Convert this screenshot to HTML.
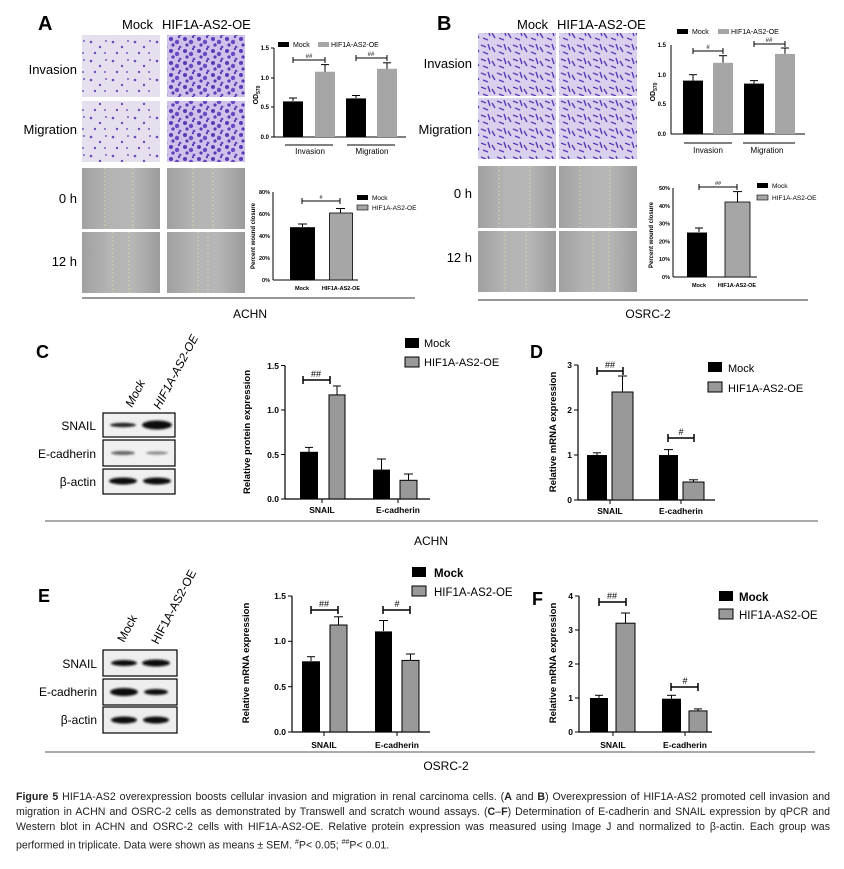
<!DOCTYPE html>
<html><head><meta charset="utf-8"><style>
html,body{margin:0;padding:0;background:#fff;width:844px;height:869px;overflow:hidden;position:relative}
svg{position:absolute;left:0;top:0}
.cap{position:absolute;left:16px;top:790px;width:814px;font-family:"Liberation Sans",sans-serif;font-size:10.6px;line-height:15px;color:#222}
.cap div{text-align:justify;text-align-last:justify;white-space:nowrap;overflow:visible;height:15px}
.cap div.last{text-align-last:left}
</style></head><body>
<svg width="844" height="869" viewBox="0 0 844 869" font-family="Liberation Sans, Arial, sans-serif">
<defs>
<pattern id="cellsA" width="22" height="19" patternUnits="userSpaceOnUse">
<rect width="22" height="19" fill="#e6e0ee"/>
<circle cx="3" cy="4" r="1.3" fill="#6a4bb8"/><circle cx="12" cy="9" r="1.2" fill="#6a4bb8"/><circle cx="18" cy="3" r="1" fill="#7a5cc4"/><circle cx="7" cy="15" r="1.2" fill="#6a4bb8"/><circle cx="17" cy="15" r="1" fill="#7a5cc4"/>
</pattern>
<pattern id="cellsB" width="14" height="12" patternUnits="userSpaceOnUse">
<rect width="14" height="12" fill="#cfc2ea"/>
<circle cx="3" cy="3" r="2" fill="#5b3bb5"/><circle cx="9" cy="6" r="2.2" fill="#6a48c2"/><circle cx="5" cy="9" r="1.6" fill="#5b3bb5"/><circle cx="12" cy="11" r="1.4" fill="#6a48c2"/><circle cx="11" cy="1" r="1.2" fill="#5b3bb5"/>
</pattern>
<pattern id="cellsC" width="16" height="14" patternUnits="userSpaceOnUse">
<rect width="16" height="14" fill="#d9d0ee"/>
<path d="M1 3 L6 5 M8 2 L10 8 M3 10 L8 12 M12 5 L15 10" stroke="#5b3bb5" stroke-width="1.4"/>
</pattern>
<linearGradient id="wnd" x1="0" x2="1"><stop offset="0" stop-color="#a0a0a0"/><stop offset="0.35" stop-color="#b4b4b4"/><stop offset="0.65" stop-color="#b6b6b6"/><stop offset="1" stop-color="#9c9c9c"/></linearGradient>
<filter id="bl"><feGaussianBlur stdDeviation="1.1"/></filter>
</defs>

<!-- ===== Panel A ===== -->
<text x="38" y="30" font-size="20" font-weight="bold">A</text>
<text x="122" y="29" font-size="13">Mock</text>
<text x="162" y="29" font-size="13">HIF1A-AS2-OE</text>
<text x="77" y="74" font-size="13" text-anchor="end">Invasion</text>
<text x="77" y="134" font-size="13" text-anchor="end">Migration</text>
<text x="77" y="203" font-size="13" text-anchor="end">0 h</text>
<text x="77" y="266" font-size="13" text-anchor="end">12 h</text>
<rect x="82" y="35" width="78" height="62" fill="url(#cellsA)"/>
<rect x="167" y="35" width="78" height="62" fill="url(#cellsB)"/>
<rect x="82" y="101" width="78" height="61" fill="url(#cellsA)"/>
<rect x="167" y="101" width="78" height="61" fill="url(#cellsB)"/>
<rect x="82" y="168" width="78" height="61" fill="url(#wnd)"/>
<rect x="167" y="168" width="78" height="61" fill="url(#wnd)"/>
<rect x="82" y="232" width="78" height="61" fill="url(#wnd)"/>
<rect x="167" y="232" width="78" height="61" fill="url(#wnd)"/>
<g stroke="#e8e0a0" stroke-width="0.6" stroke-dasharray="2,2">
<line x1="105" y1="168" x2="105" y2="229"/><line x1="133" y1="168" x2="133" y2="229"/>
<line x1="193" y1="168" x2="193" y2="229"/><line x1="213" y1="168" x2="213" y2="229"/>
<line x1="113" y1="232" x2="113" y2="293"/><line x1="129" y1="232" x2="129" y2="293"/>
<line x1="198" y1="232" x2="198" y2="293"/><line x1="208" y1="232" x2="208" y2="293"/>
</g>
<g font-size="6" font-weight="bold">
<rect x="278" y="42" width="11" height="5" fill="#000"/><text x="293" y="47" font-weight="normal" font-size="7">Mock</text>
<rect x="318" y="42" width="11" height="5" fill="#a6a6a6"/><text x="331" y="47" font-weight="normal" font-size="7">HIF1A-AS2-OE</text>
<line x1="274" y1="48" x2="274" y2="137" stroke="#000"/><line x1="274" y1="137" x2="406" y2="137" stroke="#000"/>
<g stroke="#000"><line x1="271" y1="48" x2="274" y2="48"/><line x1="271" y1="78" x2="274" y2="78"/><line x1="271" y1="107" x2="274" y2="107"/><line x1="271" y1="137" x2="274" y2="137"/></g>
<text x="269" y="50" text-anchor="end">1.5</text><text x="269" y="80" text-anchor="end">1.0</text><text x="269" y="109" text-anchor="end">0.5</text><text x="269" y="139" text-anchor="end">0.0</text>
<text transform="translate(258,95) rotate(-90)" text-anchor="middle" font-size="7">OD<tspan font-size="5" dy="2">570</tspan></text>
<g stroke="#000" stroke-width="1">
<line x1="293" y1="101" x2="293" y2="98"/><line x1="325" y1="72" x2="325" y2="64.6"/><line x1="356" y1="98" x2="356" y2="95.5"/><line x1="387" y1="69" x2="387" y2="62.8"/>
<line x1="289" y1="98" x2="297" y2="98"/><line x1="321" y1="64.6" x2="329" y2="64.6"/><line x1="352" y1="95.5" x2="360" y2="95.5"/><line x1="383" y1="62.8" x2="391" y2="62.8"/>
</g>
<rect x="283" y="101.4" width="20" height="35.6" fill="#000"/>
<rect x="315" y="71.7" width="20" height="65.3" fill="#a6a6a6"/>
<rect x="346" y="98.4" width="20" height="38.6" fill="#000"/>
<rect x="377" y="68.8" width="20" height="68.2" fill="#a6a6a6"/>
<g stroke="#000"><line x1="293" y1="60" x2="325" y2="60"/><line x1="293" y1="57" x2="293" y2="63"/><line x1="325" y1="57" x2="325" y2="63"/>
<line x1="356" y1="58" x2="387" y2="58"/><line x1="356" y1="55" x2="356" y2="61"/><line x1="387" y1="55" x2="387" y2="61"/>
<line x1="285" y1="145" x2="333" y2="145"/><line x1="347" y1="145" x2="395" y2="145"/></g>
<text x="309" y="58" text-anchor="middle" font-weight="normal">##</text><text x="371" y="56" text-anchor="middle" font-weight="normal">##</text>
<text x="310" y="154" text-anchor="middle" font-size="8" font-weight="normal">Invasion</text><text x="372" y="154" text-anchor="middle" font-size="8" font-weight="normal">Migration</text>
</g>
<g font-size="5.5" font-weight="bold">
<line x1="273" y1="192" x2="273" y2="280" stroke="#000"/><line x1="273" y1="280" x2="358" y2="280" stroke="#000"/>
<text x="270" y="194" text-anchor="end">80%</text><text x="270" y="216" text-anchor="end">60%</text><text x="270" y="238" text-anchor="end">40%</text><text x="270" y="260" text-anchor="end">20%</text><text x="270" y="282" text-anchor="end">0%</text>
<text transform="translate(255,236) rotate(-90)" text-anchor="middle" font-size="6">Percent wound closure</text>
<g stroke="#000"><line x1="302.5" y1="227" x2="302.5" y2="224"/><line x1="298" y1="224" x2="307" y2="224"/><line x1="340.5" y1="213" x2="340.5" y2="208.5"/><line x1="336" y1="208.5" x2="345" y2="208.5"/>
<line x1="302" y1="201" x2="340" y2="201"/><line x1="302" y1="198" x2="302" y2="204"/><line x1="340" y1="198" x2="340" y2="204"/></g>
<rect x="290" y="227.2" width="25" height="52.8" fill="#000"/>
<rect x="329.5" y="213" width="23" height="67" fill="#a6a6a6" stroke="#000" stroke-width="0.8"/>
<text x="321" y="199" text-anchor="middle" font-weight="normal">#</text>
<text x="302" y="290" text-anchor="middle">Mock</text><text x="341" y="290" text-anchor="middle">HIF1A-AS2-OE</text>
<rect x="357" y="195" width="11" height="5" fill="#000"/><text x="372" y="200" font-weight="normal" font-size="6.5">Mock</text>
<rect x="357" y="205" width="11" height="5" fill="#a6a6a6" stroke="#000" stroke-width="0.6"/><text x="372" y="210" font-weight="normal" font-size="6.5">HIF1A-AS2-OE</text>
</g>
<line x1="82" y1="298" x2="415" y2="298" stroke="#333" stroke-width="1"/>
<text x="250" y="318" font-size="12" text-anchor="middle">ACHN</text>

<!-- ===== Panel B ===== -->
<text x="437" y="30" font-size="20" font-weight="bold">B</text>
<text x="517" y="29" font-size="13">Mock</text>
<text x="557" y="29" font-size="13">HIF1A-AS2-OE</text>
<text x="472" y="68" font-size="13" text-anchor="end">Invasion</text>
<text x="472" y="134" font-size="13" text-anchor="end">Migration</text>
<text x="472" y="198" font-size="13" text-anchor="end">0 h</text>
<text x="472" y="262" font-size="13" text-anchor="end">12 h</text>
<rect x="478" y="33" width="78" height="63" fill="url(#cellsC)"/>
<rect x="559" y="33" width="78" height="63" fill="url(#cellsC)"/>
<rect x="478" y="98" width="78" height="61" fill="url(#cellsC)"/>
<rect x="559" y="98" width="78" height="61" fill="url(#cellsC)"/>
<rect x="478" y="166" width="78" height="62" fill="url(#wnd)"/>
<rect x="559" y="166" width="78" height="62" fill="url(#wnd)"/>
<rect x="478" y="231" width="78" height="61" fill="url(#wnd)"/>
<rect x="559" y="231" width="78" height="61" fill="url(#wnd)"/>
<g stroke="#e8e0a0" stroke-width="0.6" stroke-dasharray="2,2">
<line x1="499" y1="166" x2="499" y2="228"/><line x1="530" y1="166" x2="530" y2="228"/>
<line x1="580" y1="166" x2="580" y2="228"/><line x1="610" y1="166" x2="610" y2="228"/>
<line x1="505" y1="231" x2="505" y2="292"/><line x1="526" y1="231" x2="526" y2="292"/>
<line x1="593" y1="231" x2="593" y2="292"/><line x1="609" y1="231" x2="609" y2="292"/>
</g>
<g font-size="6" font-weight="bold">
<rect x="677" y="29" width="11" height="5" fill="#000"/><text x="692" y="34" font-weight="normal" font-size="7">Mock</text>
<rect x="718" y="29" width="11" height="5" fill="#a6a6a6"/><text x="731" y="34" font-weight="normal" font-size="7">HIF1A-AS2-OE</text>
<line x1="671" y1="45" x2="671" y2="134" stroke="#000"/><line x1="671" y1="134" x2="805" y2="134" stroke="#000"/>
<text x="666" y="47" text-anchor="end">1.5</text><text x="666" y="77" text-anchor="end">1.0</text><text x="666" y="106" text-anchor="end">0.5</text><text x="666" y="136" text-anchor="end">0.0</text>
<text transform="translate(655,92) rotate(-90)" text-anchor="middle" font-size="7">OD<tspan font-size="5" dy="2">570</tspan></text>
<g stroke="#000">
<line x1="693" y1="80.6" x2="693" y2="74.7"/><line x1="689" y1="74.7" x2="697" y2="74.7"/>
<line x1="723" y1="62.8" x2="723" y2="55.7"/><line x1="719" y1="55.7" x2="727" y2="55.7"/>
<line x1="754" y1="83.6" x2="754" y2="80.6"/><line x1="750" y1="80.6" x2="758" y2="80.6"/>
<line x1="785" y1="53.9" x2="785" y2="48"/><line x1="781" y1="48" x2="789" y2="48"/>
<line x1="693" y1="51" x2="723" y2="51"/><line x1="693" y1="48" x2="693" y2="54"/><line x1="723" y1="48" x2="723" y2="54"/>
<line x1="754" y1="44" x2="785" y2="44"/><line x1="754" y1="41" x2="754" y2="47"/><line x1="785" y1="41" x2="785" y2="47"/>
<line x1="684" y1="143" x2="732" y2="143"/><line x1="743" y1="143" x2="795" y2="143"/></g>
<rect x="683" y="80.6" width="20" height="53.4" fill="#000"/>
<rect x="713" y="62.8" width="20" height="71.2" fill="#a6a6a6"/>
<rect x="744" y="83.6" width="20" height="50.4" fill="#000"/>
<rect x="775" y="53.9" width="20" height="80.1" fill="#a6a6a6"/>
<text x="708" y="49" text-anchor="middle" font-weight="normal">#</text><text x="769" y="42" text-anchor="middle" font-weight="normal">##</text>
<text x="708" y="153" text-anchor="middle" font-size="8" font-weight="normal">Invasion</text><text x="767" y="153" text-anchor="middle" font-size="8" font-weight="normal">Migration</text>
</g>
<g font-size="5.5" font-weight="bold">
<line x1="673" y1="188" x2="673" y2="277" stroke="#000"/><line x1="673" y1="277" x2="757" y2="277" stroke="#000"/>
<text x="670" y="190" text-anchor="end">50%</text><text x="670" y="208" text-anchor="end">40%</text><text x="670" y="225.6" text-anchor="end">30%</text><text x="670" y="243.4" text-anchor="end">20%</text><text x="670" y="261.2" text-anchor="end">10%</text><text x="670" y="279" text-anchor="end">0%</text>
<text transform="translate(653,235) rotate(-90)" text-anchor="middle" font-size="6">Percent wound closure</text>
<g stroke="#000"><line x1="699" y1="232" x2="699" y2="228"/><line x1="695" y1="228" x2="703" y2="228"/><line x1="737.5" y1="202" x2="737.5" y2="191.6"/><line x1="733" y1="191.6" x2="742" y2="191.6"/>
<line x1="699" y1="187" x2="737" y2="187"/><line x1="699" y1="184" x2="699" y2="190"/><line x1="737" y1="184" x2="737" y2="190"/></g>
<rect x="687" y="232.5" width="20" height="44.5" fill="#000"/>
<rect x="725" y="202" width="25" height="75" fill="#a6a6a6" stroke="#000" stroke-width="0.8"/>
<text x="718" y="185" text-anchor="middle" font-weight="normal">##</text>
<text x="699" y="287" text-anchor="middle">Mock</text><text x="737" y="287" text-anchor="middle">HIF1A-AS2-OE</text>
<rect x="757" y="183" width="11" height="5" fill="#000"/><text x="772" y="188" font-weight="normal" font-size="6.5">Mock</text>
<rect x="757" y="195" width="11" height="5" fill="#a6a6a6" stroke="#000" stroke-width="0.6"/><text x="772" y="200" font-weight="normal" font-size="6.5">HIF1A-AS2-OE</text>
</g>
<line x1="478" y1="300" x2="808" y2="300" stroke="#333"/>
<text x="648" y="318" font-size="12" text-anchor="middle">OSRC-2</text>

<!-- ===== Panel C ===== -->
<text x="36" y="358" font-size="18" font-weight="bold">C</text>
<text transform="translate(132,408) rotate(-62)" font-size="12" font-style="italic">Mock</text>
<text transform="translate(160,410) rotate(-62)" font-size="12" font-style="italic">HIF1A-AS2-OE</text>
<text x="96" y="430" font-size="12" text-anchor="end">SNAIL</text>
<text x="96" y="458" font-size="12" text-anchor="end">E-cadherin</text>
<text x="96" y="486" font-size="12" text-anchor="end">β-actin</text>
<g stroke="#000" stroke-width="1.2" fill="#f0f0f0">
<rect x="103" y="413" width="72" height="24"/><rect x="103" y="440" width="72" height="26"/><rect x="103" y="469" width="72" height="25"/></g>
<g filter="url(#bl)">
<ellipse cx="123" cy="425" rx="13" ry="2.2" fill="#222"/><ellipse cx="157" cy="425" rx="15" ry="4.5" fill="#111"/>
<ellipse cx="123" cy="453" rx="12" ry="2" fill="#666"/><ellipse cx="157" cy="453" rx="11" ry="1.6" fill="#888"/>
<ellipse cx="123" cy="481" rx="14" ry="3.5" fill="#111"/><ellipse cx="157" cy="481" rx="14" ry="3.5" fill="#111"/></g>
<g font-size="8.5" font-weight="bold">
<line x1="285" y1="365.5" x2="285" y2="499" stroke="#000" stroke-width="1.2"/><line x1="285" y1="499" x2="430" y2="499" stroke="#000" stroke-width="1.2"/>
<g stroke="#000"><line x1="281" y1="365.5" x2="285" y2="365.5"/><line x1="281" y1="410" x2="285" y2="410"/><line x1="281" y1="454.5" x2="285" y2="454.5"/><line x1="281" y1="499" x2="285" y2="499"/><line x1="322" y1="499" x2="322" y2="503"/><line x1="398" y1="499" x2="398" y2="503"/></g>
<text x="279" y="369" text-anchor="end">1.5</text><text x="279" y="413" text-anchor="end">1.0</text><text x="279" y="458" text-anchor="end">0.5</text><text x="279" y="502" text-anchor="end">0.0</text>
<text transform="translate(250,432) rotate(-90)" text-anchor="middle" font-size="9.5">Relative protein expression</text>
<g stroke="#000" stroke-width="1"><line x1="309" y1="452" x2="309" y2="447.4"/><line x1="305" y1="447.4" x2="313" y2="447.4"/>
<line x1="337" y1="395" x2="337" y2="386"/><line x1="333" y1="386" x2="341" y2="386"/>
<line x1="381.5" y1="470" x2="381.5" y2="459"/><line x1="377" y1="459" x2="386" y2="459"/>
<line x1="408.5" y1="480" x2="408.5" y2="474"/><line x1="404" y1="474" x2="413" y2="474"/></g>
<rect x="300" y="451.8" width="18" height="47.2" fill="#000"/>
<rect x="329" y="394.9" width="16" height="104.1" fill="#999" stroke="#000"/>
<rect x="373" y="469.6" width="17" height="29.4" fill="#000"/>
<rect x="400" y="480.3" width="17" height="18.7" fill="#999" stroke="#000"/>
<g stroke="#000" stroke-width="1.5"><line x1="303" y1="380" x2="330" y2="380"/><line x1="303" y1="376" x2="303" y2="384"/><line x1="330" y1="376" x2="330" y2="384"/></g>
<text x="316" y="377" text-anchor="middle" font-weight="normal" font-size="9">##</text>
<text x="322" y="513" text-anchor="middle">SNAIL</text><text x="398" y="513" text-anchor="middle">E-cadherin</text>
</g>
<rect x="405" y="338" width="14" height="10" fill="#000"/><text x="424" y="347" font-size="11">Mock</text>
<rect x="405" y="357" width="14" height="10" fill="#999" stroke="#000"/><text x="424" y="366" font-size="11">HIF1A-AS2-OE</text>
<text x="530" y="358" font-size="18" font-weight="bold">D</text>
<g font-size="8.5" font-weight="bold">
<line x1="578" y1="365" x2="578" y2="500" stroke="#000" stroke-width="1.2"/><line x1="578" y1="500" x2="715" y2="500" stroke="#000" stroke-width="1.2"/>
<g stroke="#000"><line x1="574" y1="365" x2="578" y2="365"/><line x1="574" y1="410" x2="578" y2="410"/><line x1="574" y1="455" x2="578" y2="455"/><line x1="574" y1="500" x2="578" y2="500"/><line x1="610" y1="500" x2="610" y2="504"/><line x1="681" y1="500" x2="681" y2="504"/></g>
<text x="572" y="368" text-anchor="end">3</text><text x="572" y="413" text-anchor="end">2</text><text x="572" y="458" text-anchor="end">1</text><text x="572" y="503" text-anchor="end">0</text>
<text transform="translate(556,432) rotate(-90)" text-anchor="middle" font-size="9.5">Relative mRNA expression</text>
<g stroke="#000"><line x1="597" y1="455" x2="597" y2="452.8"/><line x1="593" y1="452.8" x2="601" y2="452.8"/>
<line x1="622.5" y1="392" x2="622.5" y2="376"/><line x1="618" y1="376" x2="627" y2="376"/>
<line x1="668.5" y1="455" x2="668.5" y2="449.6"/><line x1="664" y1="449.6" x2="673" y2="449.6"/>
<line x1="693.5" y1="482" x2="693.5" y2="479.8"/><line x1="689" y1="479.8" x2="698" y2="479.8"/></g>
<rect x="587" y="455" width="20" height="45" fill="#000"/>
<rect x="612" y="392" width="21" height="108" fill="#999" stroke="#000"/>
<rect x="659" y="455" width="19" height="45" fill="#000"/>
<rect x="683" y="482" width="21" height="18" fill="#999" stroke="#000"/>
<g stroke="#000" stroke-width="1.5"><line x1="597" y1="371" x2="623" y2="371"/><line x1="597" y1="367" x2="597" y2="375"/><line x1="623" y1="367" x2="623" y2="375"/>
<line x1="668" y1="438" x2="694" y2="438"/><line x1="668" y1="434" x2="668" y2="442"/><line x1="694" y1="434" x2="694" y2="442"/></g>
<text x="610" y="368" text-anchor="middle" font-weight="normal" font-size="9">##</text><text x="681" y="435" text-anchor="middle" font-weight="normal" font-size="9">#</text>
<text x="610" y="514" text-anchor="middle">SNAIL</text><text x="681" y="514" text-anchor="middle">E-cadherin</text>
</g>
<rect x="708" y="362" width="14" height="10" fill="#000"/><text x="728" y="372" font-size="11">Mock</text>
<rect x="708" y="382" width="14" height="10" fill="#999" stroke="#000"/><text x="728" y="392" font-size="11">HIF1A-AS2-OE</text>
<line x1="45" y1="521" x2="818" y2="521" stroke="#555"/>
<text x="431" y="545" font-size="12" text-anchor="middle">ACHN</text>

<!-- ===== Panel E ===== -->
<text x="38" y="602" font-size="18" font-weight="bold">E</text>
<text transform="translate(124,643) rotate(-62)" font-size="12">Mock</text>
<text transform="translate(158,645) rotate(-62)" font-size="12">HIF1A-AS2-OE</text>
<text x="97" y="668" font-size="12" text-anchor="end">SNAIL</text>
<text x="97" y="696" font-size="12" text-anchor="end">E-cadherin</text>
<text x="97" y="724" font-size="12" text-anchor="end">β-actin</text>
<g stroke="#000" stroke-width="1.2" fill="#eee">
<rect x="103" y="650" width="74" height="26"/><rect x="103" y="679" width="74" height="26"/><rect x="103" y="707" width="74" height="26"/></g>
<g filter="url(#bl)">
<ellipse cx="124" cy="663" rx="13" ry="3" fill="#111"/><ellipse cx="156" cy="663" rx="14" ry="3.5" fill="#111"/>
<ellipse cx="124" cy="692" rx="14" ry="4" fill="#111"/><ellipse cx="156" cy="692" rx="12" ry="3" fill="#111"/>
<ellipse cx="124" cy="720" rx="13" ry="3.5" fill="#111"/><ellipse cx="156" cy="720" rx="13" ry="3.5" fill="#111"/></g>
<g font-size="8.5" font-weight="bold">
<line x1="292" y1="596" x2="292" y2="732" stroke="#000" stroke-width="1.2"/><line x1="292" y1="732" x2="430" y2="732" stroke="#000" stroke-width="1.2"/>
<g stroke="#000"><line x1="288" y1="596" x2="292" y2="596"/><line x1="288" y1="641.3" x2="292" y2="641.3"/><line x1="288" y1="686.7" x2="292" y2="686.7"/><line x1="288" y1="732" x2="292" y2="732"/><line x1="324" y1="732" x2="324" y2="736"/><line x1="397" y1="732" x2="397" y2="736"/></g>
<text x="286" y="599" text-anchor="end">1.5</text><text x="286" y="644" text-anchor="end">1.0</text><text x="286" y="690" text-anchor="end">0.5</text><text x="286" y="735" text-anchor="end">0.0</text>
<text transform="translate(249,663) rotate(-90)" text-anchor="middle" font-size="9.5">Relative mRNA expression</text>
<g stroke="#000"><line x1="311" y1="661" x2="311" y2="656.7"/><line x1="307" y1="656.7" x2="315" y2="656.7"/>
<line x1="338.5" y1="625" x2="338.5" y2="616.8"/><line x1="334" y1="616.8" x2="343" y2="616.8"/>
<line x1="383.5" y1="631" x2="383.5" y2="620.5"/><line x1="379" y1="620.5" x2="388" y2="620.5"/>
<line x1="410.5" y1="660" x2="410.5" y2="654"/><line x1="406" y1="654" x2="415" y2="654"/></g>
<rect x="302" y="661.3" width="18" height="70.7" fill="#000"/>
<rect x="330" y="625" width="17" height="107" fill="#999" stroke="#000"/>
<rect x="375" y="631.4" width="17" height="100.6" fill="#000"/>
<rect x="402" y="660.4" width="17" height="71.6" fill="#999" stroke="#000"/>
<g stroke="#000" stroke-width="1.5"><line x1="311" y1="610" x2="338" y2="610"/><line x1="311" y1="606" x2="311" y2="614"/><line x1="338" y1="606" x2="338" y2="614"/>
<line x1="383" y1="610" x2="410" y2="610"/><line x1="383" y1="606" x2="383" y2="614"/><line x1="410" y1="606" x2="410" y2="614"/></g>
<text x="324" y="607" text-anchor="middle" font-weight="normal" font-size="9">##</text><text x="397" y="607" text-anchor="middle" font-weight="normal" font-size="9">#</text>
<text x="324" y="748" text-anchor="middle">SNAIL</text><text x="397" y="748" text-anchor="middle">E-cadherin</text>
</g>
<rect x="412" y="567" width="14" height="10" fill="#000"/><text x="434" y="577" font-size="11.5" font-weight="bold">Mock</text>
<rect x="412" y="586" width="14" height="10" fill="#999" stroke="#000"/><text x="434" y="596" font-size="11.5">HIF1A-AS2-OE</text>
<text x="532" y="605" font-size="18" font-weight="bold">F</text>
<g font-size="8.5" font-weight="bold">
<line x1="579" y1="596" x2="579" y2="732" stroke="#000" stroke-width="1.2"/><line x1="579" y1="732" x2="712" y2="732" stroke="#000" stroke-width="1.2"/>
<g stroke="#000"><line x1="575" y1="596" x2="579" y2="596"/><line x1="575" y1="630" x2="579" y2="630"/><line x1="575" y1="664" x2="579" y2="664"/><line x1="575" y1="698" x2="579" y2="698"/><line x1="575" y1="732" x2="579" y2="732"/><line x1="613" y1="732" x2="613" y2="736"/><line x1="685" y1="732" x2="685" y2="736"/></g>
<text x="573" y="599" text-anchor="end">4</text><text x="573" y="633" text-anchor="end">3</text><text x="573" y="667" text-anchor="end">2</text><text x="573" y="701" text-anchor="end">1</text><text x="573" y="735" text-anchor="end">0</text>
<text transform="translate(556,663) rotate(-90)" text-anchor="middle" font-size="9.5">Relative mRNA expression</text>
<g stroke="#000"><line x1="599" y1="698" x2="599" y2="695.3"/><line x1="595" y1="695.3" x2="603" y2="695.3"/>
<line x1="625.5" y1="623" x2="625.5" y2="613"/><line x1="621" y1="613" x2="630" y2="613"/>
<line x1="671.5" y1="698.7" x2="671.5" y2="695.3"/><line x1="667" y1="695.3" x2="676" y2="695.3"/>
<line x1="698" y1="711" x2="698" y2="708.9"/><line x1="694" y1="708.9" x2="702" y2="708.9"/></g>
<rect x="590" y="698" width="18" height="34" fill="#000"/>
<rect x="616" y="623.2" width="19" height="108.8" fill="#999" stroke="#000"/>
<rect x="662" y="698.7" width="19" height="33.3" fill="#000"/>
<rect x="689" y="710.9" width="18" height="21.1" fill="#999" stroke="#000"/>
<g stroke="#000" stroke-width="1.5"><line x1="599" y1="602" x2="626" y2="602"/><line x1="599" y1="598" x2="599" y2="606"/><line x1="626" y1="598" x2="626" y2="606"/>
<line x1="671" y1="687" x2="698" y2="687"/><line x1="671" y1="683" x2="671" y2="691"/><line x1="698" y1="683" x2="698" y2="691"/></g>
<text x="612" y="599" text-anchor="middle" font-weight="normal" font-size="9">##</text><text x="685" y="684" text-anchor="middle" font-weight="normal" font-size="9">#</text>
<text x="613" y="748" text-anchor="middle">SNAIL</text><text x="685" y="748" text-anchor="middle">E-cadherin</text>
</g>
<rect x="719" y="591" width="14" height="10" fill="#000"/><text x="739" y="601" font-size="11.5" font-weight="bold">Mock</text>
<rect x="719" y="609" width="14" height="10" fill="#999" stroke="#000"/><text x="739" y="619" font-size="11.5">HIF1A-AS2-OE</text>
<line x1="45" y1="752" x2="815" y2="752" stroke="#555"/>
<text x="446" y="770" font-size="12" text-anchor="middle">OSRC-2</text>
</svg>
<div class="cap">
<div><b>Figure 5</b> HIF1A-AS2 overexpression boosts cellular invasion and migration in renal carcinoma cells. (<b>A</b> and <b>B</b>) Overexpression of HIF1A-AS2 promoted cell invasion and</div>
<div>migration in ACHN and OSRC-2 cells as demonstrated by Transwell and scratch wound assays. (<b>C</b>–<b>F</b>) Determination of E-cadherin and SNAIL expression by qPCR and</div>
<div>Western blot in ACHN and OSRC-2 cells with HIF1A-AS2-OE. Relative protein expression was measured using Image J and normalized to β-actin. Each group was</div>
<div class="last">performed in triplicate. Data were shown as means ± SEM. <sup style="font-size:7px">#</sup>P&lt; 0.05; <sup style="font-size:7px">##</sup>P&lt; 0.01.</div>
</div>
</body></html>
